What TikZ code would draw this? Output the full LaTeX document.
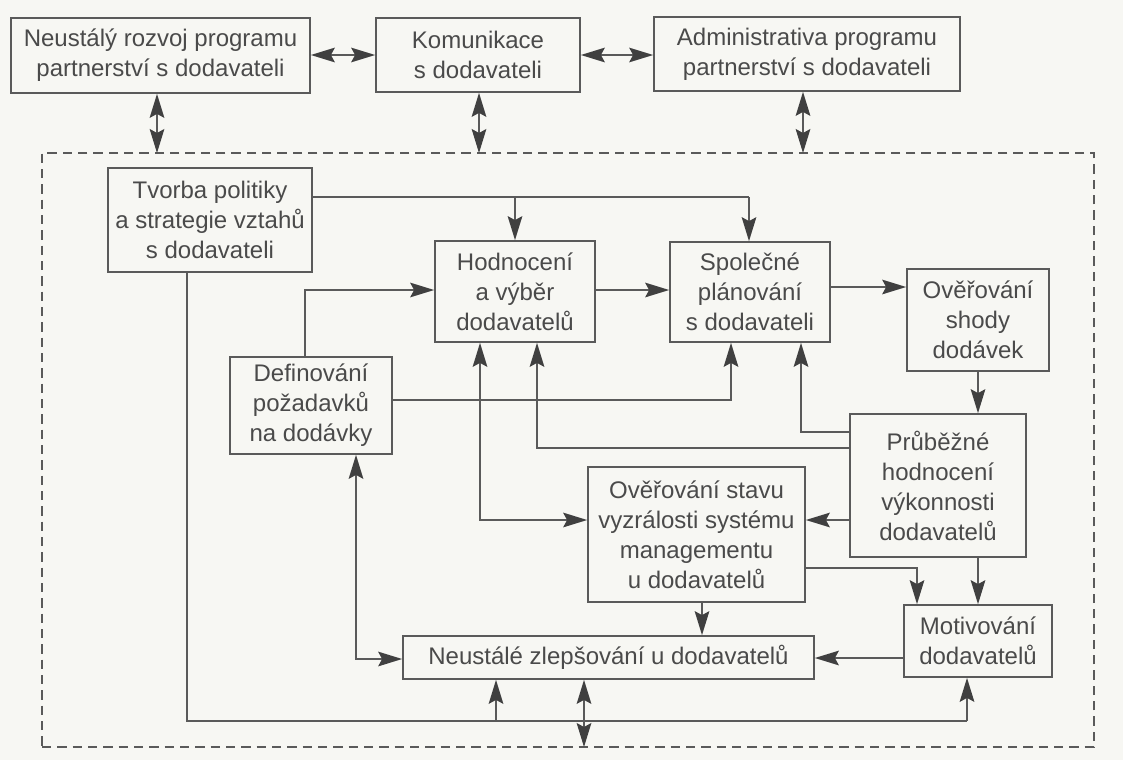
\documentclass[tikz,border=0pt]{standalone}
\usepackage{fontspec}
\setmainfont{Liberation Sans}
\usetikzlibrary{arrows.meta}
\definecolor{ink}{HTML}{4A4A4A}
\definecolor{linec}{HTML}{5A5A5A}
\definecolor{headc}{HTML}{404040}
\definecolor{paper}{HTML}{F7F7F3}
\begin{document}
\begin{tikzpicture}[x=0.75pt,y=-0.75pt,
  box/.style={draw=linec,line width=1.3pt,text=ink,align=center,inner sep=0pt,
    font=\fontsize{18}{22.5}\selectfont},
  sz/.style 2 args={minimum width=#1*0.75pt,minimum height=#2*0.75pt},
  conn/.style={draw=linec,line width=1.1pt},
  arr/.style={conn,-{Stealth[length=18pt,width=11pt,inset=3pt,color=headc]}},
  dbl/.style={conn,{Stealth[length=18pt,width=11pt,inset=3pt,color=headc]}-{Stealth[length=18pt,width=11pt,inset=3pt,color=headc]}},
  dashframe/.style={draw=linec,line width=1.2pt,dash pattern=on 7pt off 4.5pt}]

\fill[paper] (0,0) rectangle (1123,760);
\useasboundingbox (0,0) rectangle (1123,760);

% outer programme boxes
\node[box,sz={299}{75}] (n1) at (160.5,55.5) {Neustálý rozvoj programu\\partnerství s dodavateli};
\node[box,sz={204}{74}] (n2) at (478,55) {Komunikace\\s dodavateli};
\node[box,sz={306}{74}] (n3) at (807,54) {Administrativa programu\\partnerství s dodavateli};

% dashed boundary of the inner process
\node[dashframe,sz={1052}{594}] (frm) at (568,450) {};

% inner process boxes
\node[box,sz={204}{104}] (tv) at (210,220) {Tvorba politiky\\a strategie vztahů\\s dodavateli};
\node[box,sz={160}{101}] (hod) at (515,291.5) {Hodnocení\\a výběr\\dodavatelů};
\node[box,sz={160}{100}] (spo) at (750,292) {Společné\\plánování\\s dodavateli};
\node[box,sz={142}{102}] (ovs) at (978,320) {Ověřování\\shody\\dodávek};
\node[box,sz={162}{97}] (def) at (311,405.5) {Definování\\požadavků\\na dodávky};
\node[box,sz={176}{143}] (pru) at (938,485.5) {Průběžné\\hodnocení\\výkonnosti\\dodavatelů};
\node[box,sz={217}{135}] (ovz) at (696.5,534.5) {Ověřování stavu\\vyzrálosti systému\\managementu\\u dodavatelů};
\node[box,sz={148}{72}] (mot) at (978,641) {Motivování\\dodavatelů};
\node[box,sz={411}{43}] (neu) at (608.5,657.5) {Neustálé zlepšování u dodavatelů};

% routing points
\coordinate (ytop) at (0,55);
\coordinate (v1) at (157,153);
\coordinate (v2) at (479,153);
\coordinate (v3) at (803,153);
\coordinate (t1) at (515,197);
\coordinate (t2) at (749,197);
\coordinate (d1) at (305,290);
\coordinate (s1) at (0,287);
\coordinate (d2) at (731,400);
\coordinate (p1) at (801,432);
\coordinate (p2) at (537,448);
\coordinate (h2) at (480,520);
\coordinate (m1) at (978,0);
\coordinate (o1) at (917,568);
\coordinate (o2) at (702,0);
\coordinate (m2) at (0,658);
\coordinate (d3) at (356,659);
\coordinate (b1) at (187,721);
\coordinate (b2) at (967,721);
\coordinate (b3) at (496,721);
\coordinate (v4) at (584,747);

% top row links
\draw[dbl] (n1.east |- ytop) -- (n2.west |- ytop);
\draw[dbl] (n2.east |- ytop) -- (n3.west |- ytop);
\draw[dbl] (v1 |- n1.south) -- (v1);
\draw[dbl] (v2 |- n2.south) -- (v2);
\draw[dbl] (v3 |- n3.south) -- (v3);

% policy feeds evaluation and planning
\draw[conn] (tv.east |- t1) -- (t2);
\draw[arr] (t1) -- (t1 |- hod.north);
\draw[arr] (t2) -- (t2 |- spo.north);

% main flow
\draw[arr] (d1 |- def.north) -- (d1) -- (d1 -| hod.west);
\draw[arr] (hod.east |- d1) -- (spo.west |- d1);
\draw[arr] (spo.east |- s1) -- (ovs.west |- s1);
\draw[arr] (ovs.south) -- (ovs.south |- pru.north);
\draw[arr] (def.east |- d2) -- (d2) -- (d2 |- spo.south);

% feedback from performance evaluation
\draw[arr] (pru.west |- p1) -- (p1) -- (p1 |- spo.south);
\draw[arr] (pru.west |- p2) -- (p2) -- (p2 |- hod.south);
\draw[dbl] (h2 |- hod.south) -- (h2) -- (h2 -| ovz.west);
\draw[arr] (pru.west |- h2) -- (ovz.east |- h2);
\draw[arr] (m1 |- pru.south) -- (m1 |- mot.north);
\draw[arr] (ovz.east |- o1) -- (o1) -- (o1 |- mot.north);
\draw[arr] (o2 |- ovz.south) -- (o2 |- neu.north);
\draw[arr] (mot.west |- m2) -- (neu.east |- m2);
\draw[dbl] (d3 |- def.south) -- (d3) -- (d3 -| neu.west);

% bottom loop from the policy box
\draw[conn] (b1 |- tv.south) -- (b1) -- (b2);
\draw[arr] (b2) -- (b2 |- mot.south);
\draw[arr] (b3) -- (b3 |- neu.south);
\draw[dbl] (v4 |- neu.south) -- (v4);
\end{tikzpicture}
\end{document}
